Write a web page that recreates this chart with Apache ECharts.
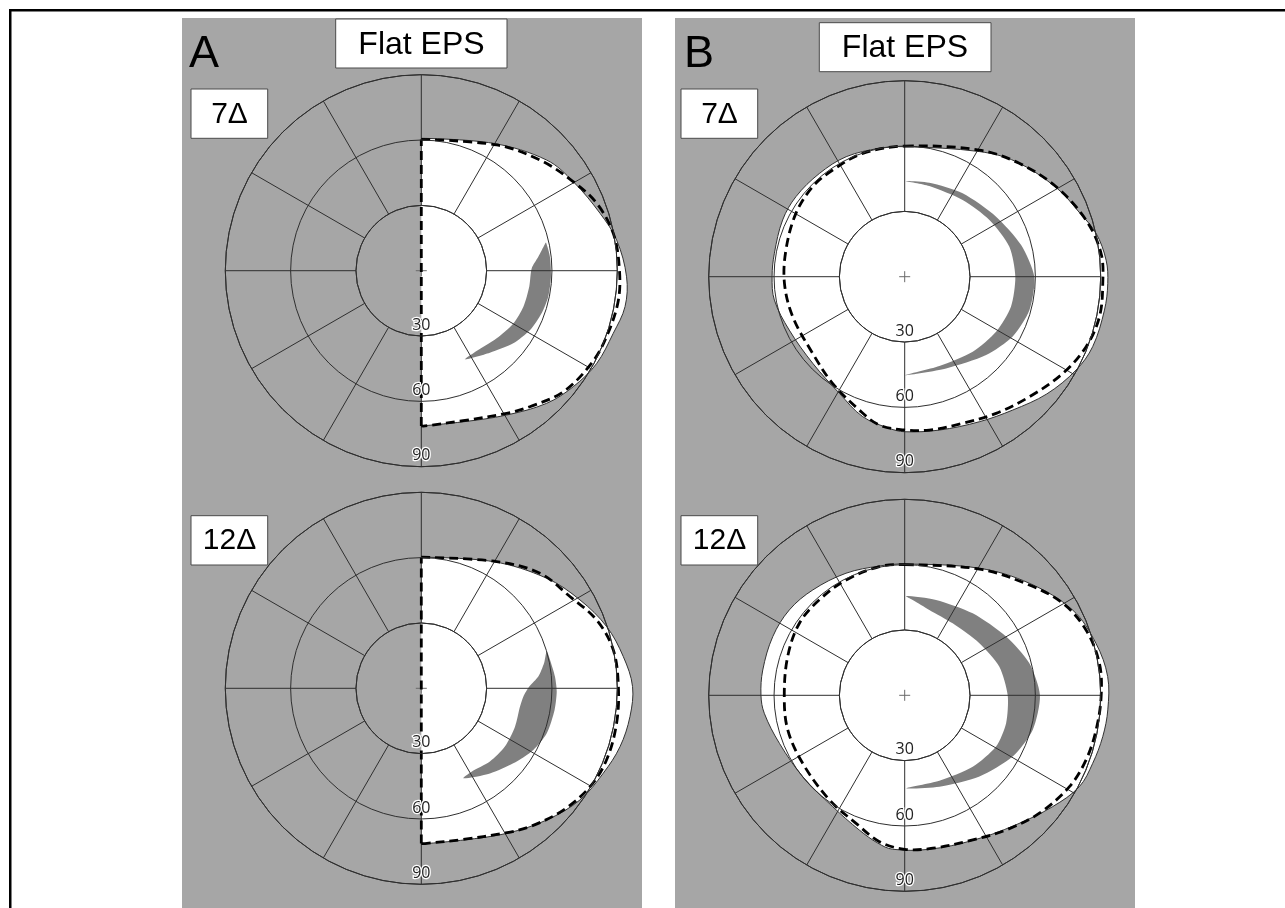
<!DOCTYPE html>
<html><head><meta charset="utf-8">
<script src="https://cdn.jsdelivr.net/npm/echarts@6/dist/echarts.min.js"></script>
<style>html,body{margin:0;padding:0;background:#fff}#c{width:1285px;height:908px}</style>
</head><body><div id="c"></div>
<script>
// ---------- data: [eccentricity (deg), meridian angle (deg, 0 = right, 90 = up)] ----------
const radiusTicks = [30, 60, 90];
const panelLetters = ['A', 'B'];
const conditionLabels = ['7Δ', '12Δ'];
const titleText = 'Flat EPS';
const centerPoint = [[0, 0]];

// Panel A, 7Δ
const fieldA7 = [[60.8,90],[67.2,60.5],[76.8,41.4],[80.9,30.3],[86.2,17.8],[90.8,8.9],[94.3,-1.7],[95.0,-10],[92.7,-18.1],[91.1,-27.9],[87.8,-37.3],[83.8,-46.6],[77.0,-59.4],[72.0,-74.5],[71.3,-90]];
const dashedA7 = [[60.3,90],[67.3,59.1],[74.5,43],[80.9,30.3],[86.3,21],[89.8,11],[90.9,1.2],[91.5,-8.5],[90.3,-19.6],[89.0,-28.5],[85.7,-40.4],[79.9,-51.4],[76.3,-59.1],[71.5,-74.4],[71.3,-88.6],[71.3,-90]];
const crescentA7 = [[58.7,12.7],[59.4,6.2],[59.6,-2.6],[59.5,-11.6],[58.6,-19.5],[56.9,-28.6],[53.8,-38.3],[49.1,-50.1],[45.4,-63.8],[44.8,-57.8],[46.5,-41.9],[48.7,-29.8],[49.7,-19.4],[50.1,-8.4],[50.7,1.2],[54.1,6.8],[58.1,12.2]];

// Panel A, 12Δ
const fieldA12 = [[60.2,90],[66.9,60.4],[76.6,41.3],[83.4,29.1],[89.7,18.4],[93.9,8.9],[97.0,0.5],[96.7,-7.7],[95.1,-16.4],[92.2,-25],[89.1,-35.1],[83.5,-46.4],[77.3,-59.5],[72.3,-74.5],[71.5,-90]];
const dashedA12 = [[60.2,90],[67.7,59.3],[75.9,44.1],[80.2,31.7],[86.4,21.3],[89.9,11.3],[90.5,0.5],[91.1,-10.2],[91.2,-21.1],[89.7,-30.2],[85.9,-40.6],[80.8,-51.8],[76.5,-60.5],[72.0,-74.5],[71.3,-88.6],[71.3,-90]];
const crescentA12 = [[60.0,16.3],[60.6,11.7],[61.6,5.0],[62.2,-1.4],[62.0,-9.2],[61.2,-19.7],[58.7,-28.8],[54.5,-39.2],[50.2,-51.1],[45.6,-65.0],[44.7,-58.9],[46.1,-46.9],[46.8,-34.9],[46.5,-22.3],[46.1,-10.5],[47.0,-4.7],[49.6,0.9],[54.0,5.7],[57.5,11.5]];

// Panel B, 7Δ
const fieldB7 = [[59.7,90],[66.9,59.2],[73.5,46],[80.8,30.3],[85.6,19.9],[90.1,12.8],[92.8,4.7],[93.3,-1.9],[93.0,-9.5],[92.1,-20.4],[89.6,-28.6],[84.6,-39.5],[78.8,-51.0],[74.9,-62.8],[72.2,-77.3],[71.2,-90],[70.0,264.2],[67.1,253.3],[61.4,240.8],[58.0,223.3],[58.4,204.8],[60.8,190.2],[60.9,180],[60.8,169.8],[61.8,155.1],[62.0,143.6],[61.5,129.6],[61.3,116],[60.1,101.2]];
const dashedB7 = [[60.0,90],[67.5,59.5],[74.0,44.7],[80.9,30.7],[87.2,17.4],[90.8,6.8],[91.0,-1.9],[91.3,-11.6],[89.3,-21.1],[85.1,-31.5],[79.5,-43.9],[75.5,-56.2],[72.4,-68.4],[71.3,-80.9],[70.4,-90],[69.1,260.3],[64.7,251.2],[59.1,235.9],[55.0,219.8],[54.6,199.7],[55.3,183.2],[55.9,167.3],[57.8,149.8],[59.1,135.6],[59.1,124],[59.8,108.8]];
const crescentB7 = [[43.9,89.6],[44.6,75.3],[46.6,55.2],[50.2,33.3],[55.4,15.2],[59.5,0],[59.3,-15],[56.7,-29],[51.9,-43.9],[46.2,-65.7],[45.2,-89.6],[44.0,-68.8],[46.5,-47.8],[49.0,-31.1],[50.7,-15.8],[50.8,0],[50.0,16],[46.8,33.8],[44.1,52.9],[43.1,74.8]];

// Panel B, 12Δ
const fieldB12 = [[60.3,90],[67.7,59.5],[77.0,41.9],[86.5,26.9],[91.0,15.2],[93.6,5.3],[93.5,-4.1],[92.9,-11.8],[91.8,-19.9],[90.5,-27.6],[85.0,-37.0],[78.2,-49.8],[73.6,-64.8],[71.6,-80.9],[70.9,265.5],[69.0,259.7],[65.3,251.4],[60.9,237.1],[59.9,218.6],[61.6,201],[65.0,187.3],[66.0,180],[66.2,169.9],[66.3,156],[65.9,143.5],[64.2,131.1],[62.2,115.7],[60.5,101.1]];
const dashedB12 = [[60.0,90],[67.3,59.4],[76.4,41.5],[84.0,30.2],[88.5,19.8],[90.6,9.3],[90.2,-0.4],[89.3,-10.3],[88.4,-19.6],[86.5,-29.0],[82.2,-41.2],[77.4,-53.0],[73.4,-64.8],[71.4,-79.6],[70.7,-90],[68.2,260.2],[62.9,249.2],[59.2,234.3],[56.3,213.7],[56.0,196.5],[55.3,180.6],[56.6,161.7],[58.6,145.6],[58.8,131.8],[59.4,116.9],[60.2,101.1]];
const crescentB12 = [[45.6,89.2],[46.1,71.8],[48.9,50.3],[53.8,30.1],[59.1,14.4],[62.1,0],[60.9,-15.2],[57.0,-29.6],[50.7,-47.4],[44.9,-69.2],[42.7,-89.2],[42.3,-67.9],[45.3,-46.4],[48.1,-29.3],[48.3,-15.4],[47.3,0],[45.4,16.8],[41.8,34.9],[39.7,56.3],[40.8,73.9],[43.9,85.2]];

// ---------- layout ----------
const polarCenters = [[421.3, 270.7], [421.3, 688.3], [904.7, 276.7], [904.7, 695.3]];
const plotRadius = 196;           // pixel radius of the 90° ring
const radiusMin = 30, radiusMax = 90;
const plots = [
  { field: fieldA7,  dashed: dashedA7,  crescent: crescentA7,  open: true },
  { field: fieldA12, dashed: dashedA12, crescent: crescentA12, open: true },
  { field: fieldB7,  dashed: dashedB7,  crescent: crescentB7,  open: false },
  { field: fieldB12, dashed: dashedB12, crescent: crescentB12, open: false }
];
const gridColor = '#2f2f2f';
const panelGray = '#a6a6a6';

const chart = echarts.init(document.getElementById('c'), null, { renderer: 'canvas', width: 1285, height: 908 });

function xy(api, p) { const c = api.coord(p); return [c[0], c[1]]; }

function fieldSeries(i, pts, open) {
  return {
    type: 'custom', coordinateSystem: 'polar', polarIndex: i, z: 1, silent: true, data: pts,
    renderItem: function (params, api) {
      if (params.dataIndex !== 0) return null;
      const P = pts.map(p => xy(api, p));
      return { type: open ? 'polyline' : 'polygon', shape: { points: P, smooth: 0.35 },
        style: { fill: '#ffffff', stroke: '#333', lineWidth: 1 } };
    }
  };
}
function crescentSeries(i, pts) {
  return {
    type: 'custom', coordinateSystem: 'polar', polarIndex: i, z: 2, silent: true, data: pts,
    renderItem: function (params, api) {
      if (params.dataIndex !== 0) return null;
      const P = pts.map(p => xy(api, p));
      return { type: 'polygon', shape: { points: P, smooth: 0.25 },
        style: { fill: '#808080', stroke: null } };
    }
  };
}
function dashedSeries(i, pts, open) {
  const st = { fill: 'none', stroke: '#000', lineWidth: 2.8, lineDash: [9, 5] };
  return {
    type: 'custom', coordinateSystem: 'polar', polarIndex: i, z: 4, silent: true, data: pts,
    renderItem: function (params, api) {
      if (params.dataIndex !== 0) return null;
      const P = pts.map(p => xy(api, p));
      const children = [{ type: open ? 'polyline' : 'polygon', shape: { points: P, smooth: 0.35 }, style: st }];
      if (open) {
        children.push({ type: 'polyline',
          shape: { points: [P[P.length - 1], xy(api, centerPoint[0]), P[0]] }, style: st });
      }
      return { type: 'group', children: children };
    }
  };
}
function centerSeries(i) {
  return {
    type: 'custom', coordinateSystem: 'polar', polarIndex: i, z: 3, silent: true, data: centerPoint,
    renderItem: function (params, api) {
      const c = xy(api, [api.value(0), api.value(1)]);
      const h = 5.5, st = { stroke: '#6a6a6a', lineWidth: 1, fill: 'none' };
      return { type: 'group', children: [
        { type: 'line', shape: { x1: c[0] - h, y1: c[1], x2: c[0] + h, y2: c[1] }, style: st },
        { type: 'line', shape: { x1: c[0], y1: c[1] - h, x2: c[0], y2: c[1] + h }, style: st }
      ] };
    }
  };
}

const polar = [], angleAxis = [], radiusAxis = [], series = [];
plots.forEach((pl, i) => {
  // inner radius = pixel position of the 30° ring, so spokes start there (same linear scale)
  polar.push({ center: polarCenters[i], radius: [plotRadius * radiusMin / radiusMax, plotRadius] });
  angleAxis.push({
    polarIndex: i, type: 'value', min: -90, max: 270, interval: 30,
    startAngle: 270, clockwise: false, z: 3,
    axisLine: { show: true, lineStyle: { color: gridColor, width: 1 } },
    axisTick: { show: false }, axisLabel: { show: false },
    splitLine: { show: true, lineStyle: { color: gridColor, width: 1 } }
  });
  radiusAxis.push({
    polarIndex: i, type: 'value', min: radiusMin, max: radiusMax, interval: 30, z: 5,
    axisLine: { show: false }, axisTick: { show: false },
    axisLabel: {
      show: true, margin: 0, align: 'center', verticalAlign: 'bottom',
      formatter: v => (radiusTicks.indexOf(v) >= 0 ? String(v) : ''),
      fontFamily: 'Open Sans', fontSize: 16, color: '#222',
      textBorderColor: '#ffffff', textBorderWidth: 2.5, padding: [0, 0, 3, 0]
    },
    splitLine: { show: true, lineStyle: { color: gridColor, width: 1 } }
  });
  series.push(fieldSeries(i, pl.field, pl.open));
  series.push(crescentSeries(i, pl.crescent));
  series.push(centerSeries(i));
  series.push(dashedSeries(i, pl.dashed, pl.open));
});

function box(x, y, w, h, text, fs, cx, cy) {
  return [
    { type: 'rect', z: 50, shape: { x: x, y: y, width: w, height: h },
      style: { fill: '#fff', stroke: '#4a4a4a', lineWidth: 1 } },
    { type: 'text', z: 51, x: cx, y: cy,
      style: { text: text, fontFamily: 'Liberation Sans, Arial, sans-serif', fontSize: fs, fill: '#000',
        align: 'center', verticalAlign: 'middle' } }
  ];
}

const graphic = [
  { type: 'rect', z: -10, shape: { x: 182, y: 18, width: 460, height: 890 }, style: { fill: panelGray } },
  { type: 'rect', z: -10, shape: { x: 675, y: 18, width: 460, height: 890 }, style: { fill: panelGray } },
  { type: 'rect', z: 60, shape: { x: 9, y: 9, width: 1276, height: 2.5 }, style: { fill: '#000' } },
  { type: 'rect', z: 60, shape: { x: 9, y: 9, width: 2.5, height: 899 }, style: { fill: '#000' } },
  { type: 'text', z: 51, x: 189, y: 55, style: { text: panelLetters[0], fontFamily: 'Liberation Sans, Arial, sans-serif',
      fontSize: 45, fill: '#000', align: 'left', verticalAlign: 'middle' } },
  { type: 'text', z: 51, x: 684, y: 55, style: { text: panelLetters[1], fontFamily: 'Liberation Sans, Arial, sans-serif',
      fontSize: 45, fill: '#000', align: 'left', verticalAlign: 'middle' } }
]
  .concat(box(335.7, 19, 171.3, 49, titleText, 32, 421.5, 45))
  .concat(box(819.3, 22.7, 171.7, 49, titleText, 32, 905, 48.5))
  .concat(box(191, 89, 76.7, 49.3, conditionLabels[0], 30, 229.5, 115))
  .concat(box(191, 515.7, 76.7, 49.3, conditionLabels[1], 30, 229.5, 541))
  .concat(box(681, 89, 76.7, 49.3, conditionLabels[0], 30, 719.5, 115))
  .concat(box(681, 515.7, 76.7, 49.3, conditionLabels[1], 30, 719.5, 541));

chart.setOption({
  backgroundColor: '#ffffff',
  animation: false,
  polar: polar, angleAxis: angleAxis, radiusAxis: radiusAxis,
  series: series,
  graphic: graphic
});
</script>
</body></html>
